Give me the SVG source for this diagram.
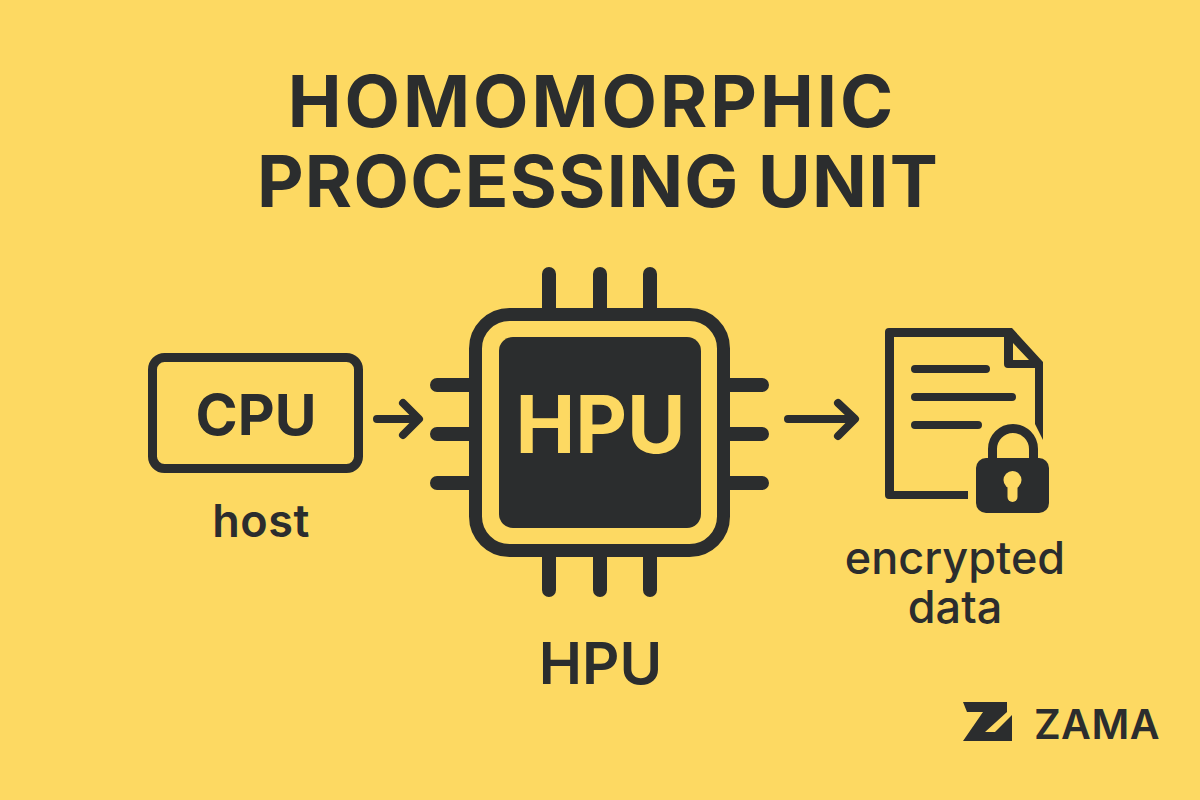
<svg xmlns="http://www.w3.org/2000/svg" width="1200" height="800" viewBox="0 0 1200 800">
<style>
text{font-family:Inter,"Liberation Sans",sans-serif;fill:#2b2d2e;text-anchor:middle}
.s{fill:none;stroke:#2b2d2e;stroke-linecap:round;stroke-linejoin:round}
.t{stroke-width:14}
.l{stroke-width:8}
.k{fill:#2b2d2e}
.y{fill:#fdd962}
</style>
<rect width="1200" height="800" class="y"/>
<g id="title">
<text x="592" y="127" font-size="72" font-weight="700" letter-spacing="3">HOMOMORPHIC</text>
<text x="598" y="207" font-size="72" font-weight="700" letter-spacing="1.300">PROCESSING UNIT</text>
</g>
<g id="cpu">
<rect class="s" x="152.500" y="357.500" width="206" height="111" rx="12" stroke-width="9"/>
<text x="256" y="435" font-size="57" font-weight="700">CPU</text>
<text x="261" y="537" font-size="45" font-weight="600" letter-spacing="0.500">host</text>
</g>
<g id="hpu">
<path class="s t" d="M549 274V312M600 274V312M650 274V312M549 554V590M600 554V590M650 554V590M437 385H470M437 434H470M437 483H470M730 385H762M730 434H762M730 483H762"/>
<rect class="s" x="475.500" y="314.500" width="248" height="236" rx="34" stroke-width="13"/>
<rect x="499" y="337" width="202" height="191" rx="14" class="k"/>
<text x="600.500" y="453" font-size="80" font-weight="700" style="fill:#fdd962">HPU</text>
<text x="600.500" y="684" font-size="58" font-weight="600">HPU</text>
</g>
<g id="document">
<path class="k" fill-rule="evenodd" d="M889 328H1012L1043 362V440L1035 424V368H1008Q1004 368 1004 364V337H894V491H968V499H889Q885 499 885 495V332Q885 328 889 328ZM1013 343V360H1029Z"/>
<path class="s l" d="M915 369H986M915 397H1012M915 425H978"/>
<path class="s" style="stroke:#fdd962" stroke-width="16" d="M992.500 456V449a20.500 20.500 0 0 1 41 0V456"/>
<path class="s" stroke-width="9" style="stroke-linecap:butt" d="M992.500 462V449a20.500 20.500 0 0 1 41 0V462"/>
<rect x="976" y="458" width="73" height="55" rx="10" class="k"/>
<circle cx="1012.500" cy="480" r="9" class="y"/>
<path d="M1007.500 482H1017.500V497a5 5 0 0 1-10 0Z" class="y"/>
<text x="955" y="574" font-size="45" font-weight="500">encrypted</text>
<text x="955" y="623" font-size="45" font-weight="500">data</text>
</g>
<g id="connectors">
<path class="s l" d="M377 419H416M403 403L419 419L403 435"/>
<path class="s l" d="M788 419H854M838 403L855 419L838 436"/>
</g>
<g id="logo">
<path d="M963 702H1007V712L985 732H995L1012 715V741H963L983 712H967Z" class="k"/>
<text x="1097" y="739" font-size="41" font-weight="600" letter-spacing="0.500">ZAMA</text>
</g>
</svg>
